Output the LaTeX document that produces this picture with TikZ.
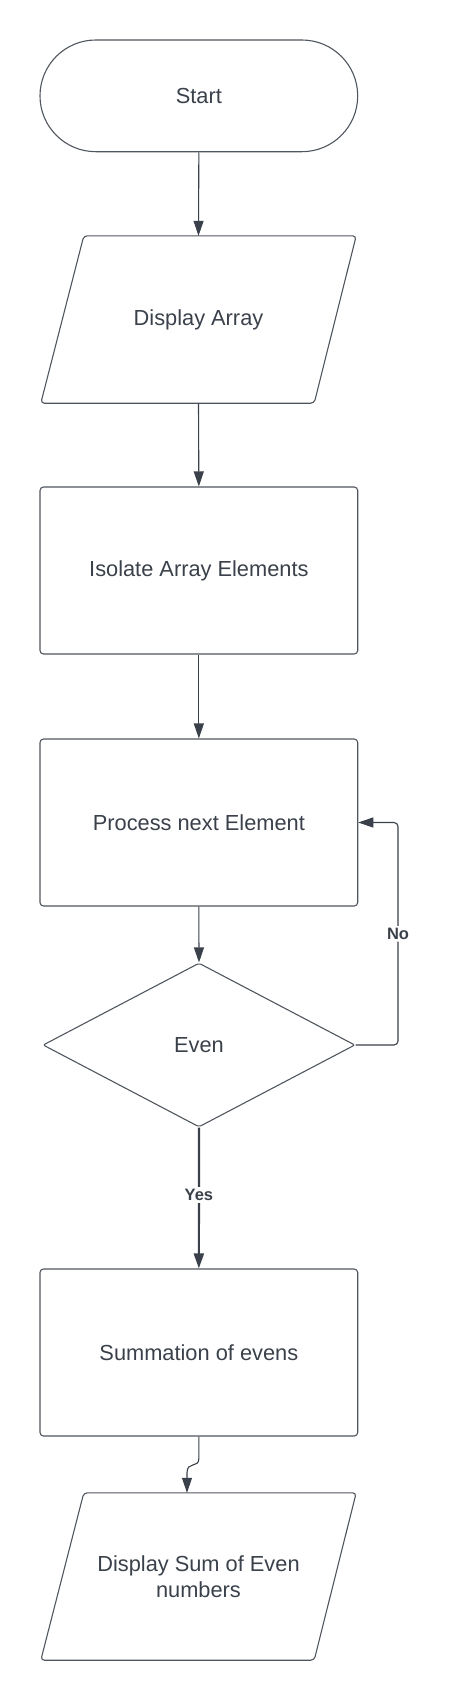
\documentclass[tikz,border=0pt]{standalone}
\usepackage{fontspec}
\setmainfont{Liberation Sans}
\usetikzlibrary{shapes.geometric,arrows.meta,calc}
\definecolor{ink}{HTML}{3A414A}
\definecolor{edge}{HTML}{50565E}
\tikzset{
  base/.style={text=ink,font=\fontsize{21.8}{26.5}\selectfont,inner sep=0pt,align=center},
  procbox/.style={base,draw=edge,line width=1.1pt,rectangle,rounded corners=3.5pt,minimum width=317.7pt,minimum height=167pt},
  termbox/.style={base,draw=edge,line width=1.1pt,rectangle,rounded corners=55.8pt,minimum width=317.7pt,minimum height=111.7pt},
  iobox/.style={base,rectangle,minimum width=315pt,minimum height=167pt},
  iodraw/.style={draw=edge,line width=1.1pt,rounded corners=3.5pt},
  decbox/.style={base,draw=edge,line width=1.1pt,diamond,aspect=1.9,minimum width=312pt,minimum height=164pt,rounded corners=2pt},
  conn/.style={draw=ink,line width=1.1pt,-{Triangle[length=15pt,width=10pt]}},
  lbl/.style={text=ink,font=\fontsize{16.5}{18}\selectfont\bfseries,fill=white,inner sep=2pt}
}
\begin{document}
\begin{tikzpicture}[x=1pt,y=-1pt]
\useasboundingbox (0,0) rectangle (450,1700);
\node[termbox] (start) at (198.85,95.85) {Start};
\node[iobox] (disp) at (198.5,319.5) {Display Array};
\draw[iodraw] (disp.south west) -- ($(disp.north west)+(43,0)$) -- (disp.north east) -- ($(disp.south east)+(-42,0)$) -- cycle;
\node[procbox] (iso) at (198.85,570.5) {Isolate Array Elements};
\node[procbox] (proc) at (198.85,822.5) {Process next Element};
\node[decbox] (even) at (199,1045) {Even};
\node[procbox] (sum) at (198.85,1352.5) {Summation of evens};
\node[iobox] (out) at (198.5,1576.5) {Display Sum of Even\\numbers};
\draw[iodraw] (out.south west) -- ($(out.north west)+(43,0)$) -- (out.north east) -- ($(out.south east)+(-42,0)$) -- cycle;
\coordinate (loopA) at (398,1045);
\coordinate (loopB) at (398,822.5);
\coordinate (sumend) at ($(out.north)+(-11.5,0)$);
\draw[conn] (start.south) -- (disp.north);
\draw[conn] (disp.south) -- (iso.north);
\draw[conn] (iso.south) -- (proc.north);
\draw[conn] (proc.south) -- (even.north);
\draw[conn,line width=2.2pt] (even.south) -- node[lbl,pos=0.48] {Yes} (sum.north);
\draw[conn,rounded corners=4pt] (even.east) -- (loopA) -- node[lbl,pos=0.5] {No} (loopB) -- (proc.east);
\draw[conn] (sum.south) -- ++(0,22) .. controls ++(0,10) and ($(sumend)+(0,-32)$) .. ($(sumend)+(0,-20)$) -- (sumend);
\end{tikzpicture}
\end{document}
